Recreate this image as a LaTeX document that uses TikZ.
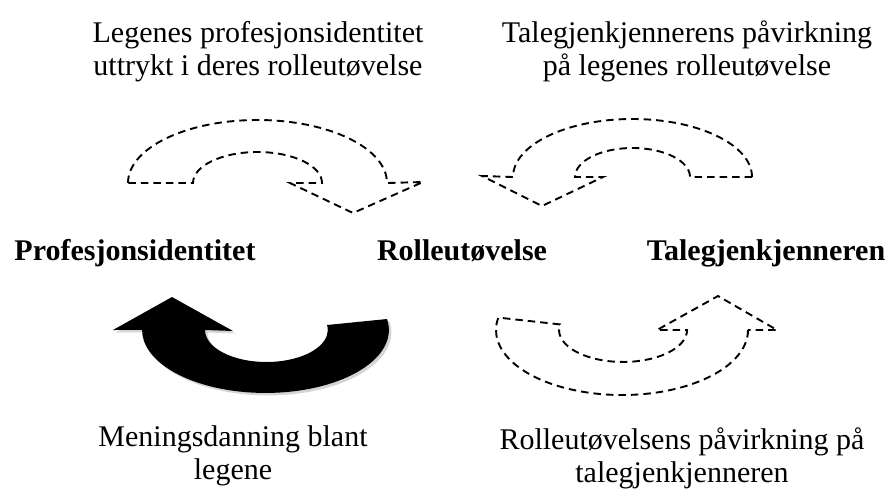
\documentclass[tikz,border=0pt]{standalone}
\usepackage{fontspec}
\setmainfont{Liberation Serif}
\newcommand{\twolines}[2]{\begin{tabular}[t]{@{}c@{}}#1\\#2\end{tabular}}
\newcommand{\blarrowpath}{(387,319) arc[start angle=-10,end angle=180,x radius=123.4,y radius=63] -- (113,330) -- (172,297) -- (233,331) -- (205,330) arc[start angle=180,end angle=-9,x radius=61.4,y radius=32] -- cycle}
\begin{document}
\begin{tikzpicture}[x=1pt,y=-1pt,
  dashbox/.style={draw=black, dash pattern=on 7.5pt off 5pt, line width=1.9pt, line join=miter},
  solidbox/.style={fill=black},
  lbl/.style={font=\fontsize{30}{33}\selectfont, anchor=base, inner sep=0pt},
  blbl/.style={font=\fontsize{30}{33}\selectfont\bfseries, anchor=base, inner sep=0pt}]
\useasboundingbox (0,0) rectangle (890,490);
% labels
\node[lbl] (tl) at (258,42) {\twolines{Legenes profesjonsidentitet}{uttrykt i deres rolleutøvelse}};
\node[lbl] (tr) at (687,42) {\twolines{Talegjenkjennerens påvirkning}{på legenes rolleutøvelse}};
\node[blbl] (prof) at (135,260) {Profesjonsidentitet};
\node[blbl] (rolle) at (462,260) {Rolleutøvelse};
\node[blbl] (tale) at (766,260) {Talegjenkjenneren};
\node[lbl] (bl) at (233,446) {\twolines{Meningsdanning blant}{legene}};
\node[lbl] (br) at (682,449) {\twolines{Rolleutøvelsens påvirkning på}{talegjenkjenneren}};
% top-left dashed curved arrow
\draw[dashbox] (128,183) arc[start angle=180,end angle=360,x radius=129.5,y radius=63]
  -- (423,182) -- (353,213) -- (290,183) -- (322,183)
  arc[start angle=360,end angle=180,x radius=64.5,y radius=31] -- cycle;
% top-right dashed curved arrow
\draw[dashbox] (752,177) arc[start angle=0,end angle=-180,x radius=119.5,y radius=58]
  -- (482,176) -- (542,206) -- (603,177) -- (575,177)
  arc[start angle=180,end angle=360,x radius=57.5,y radius=29] -- cycle;
% bottom-right dashed curved arrow
\draw[dashbox] (748,330) arc[start angle=0,end angle=191,x radius=126,y radius=65]
  -- (560,324.4) arc[start angle=190,end angle=0,x radius=64,y radius=32]
  -- (657,330) -- (718,296) -- (777,330) -- cycle;
% bottom-left solid curved arrow with shadow
\fill[gray!55, opacity=0.6, shift={(2.5,2.5)}] \blarrowpath;
\fill[solidbox] \blarrowpath;
\end{tikzpicture}
\end{document}
